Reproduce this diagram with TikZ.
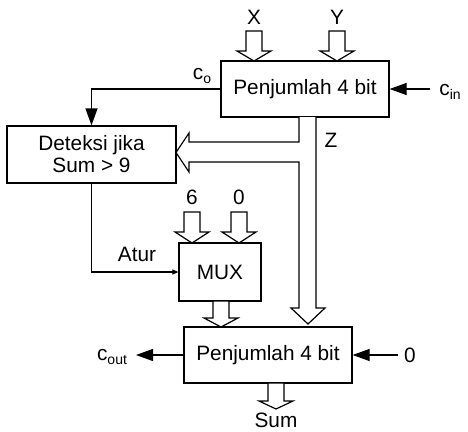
\documentclass[tikz,border=0pt]{standalone}
\usepackage{fontspec}
\setmainfont{Liberation Sans}
\usetikzlibrary{arrows.meta}
\newcommand\fatdown[4]{%
  \draw[fat] ({#1-8},#2) -- ({#1-8},#3) -- ({#1-17},#3) -- (#1,#4) -- ({#1+17},#3) -- ({#1+8},#3) -- ({#1+8},#2) -- cycle;}
\newcommand\mysub[1]{\raisebox{-0.3ex}{\fontsize{14}{16}\selectfont #1}}
\begin{document}
\begin{tikzpicture}[x=1pt,y=-1pt,line width=1.2pt,
  every node/.style={font=\fontsize{20.8}{24}\selectfont},
  blk/.style={draw,rectangle,inner sep=0pt,align=center},
  fat/.style={draw,line width=1.2pt,line join=miter,fill=white},
  lbl/.style={inner sep=0pt},
  big/.style={-{Triangle[length=17pt,width=12pt]}},
  small/.style={-{Triangle[length=6pt,width=5pt]}}]
\useasboundingbox (0,0) rectangle (468,431);
\node[blk,minimum width=168pt,minimum height=56pt] (add1) at (305,89) {Penjumlah 4 bit};
\node[blk,minimum width=169pt,minimum height=57pt] (det) at (91.5,154.5) {Deteksi jika\\[-2pt]Sum > 9};
\node[blk,minimum width=82pt,minimum height=58pt] (mux) at (220,272) {MUX};
\node[blk,minimum width=168pt,minimum height=56pt] (add2) at (268,355) {Penjumlah 4 bit};
% labels
\node[lbl] (lx) at (254,17) {X};
\node[lbl] (ly) at (337,17) {Y};
\node[lbl] (lco) at (202,76) {c\mysub{o}};
\node[lbl] (lcin) at (450,92) {c\mysub{in}};
\node[lbl] (lz) at (331,140) {Z};
\node[lbl] (l6) at (192,197) {6};
\node[lbl] (l0) at (239,197) {0};
\node[lbl] (latur) at (137,254) {Atur};
\node[lbl] (lcout) at (112,357) {c\mysub{out}};
\node[lbl] (lzero) at (410,355) {0};
\node[lbl] (lsum) at (276,420) {Sum};
\coordinate (cinS) at (430,89);
\coordinate (coutE) at (136,355);
\coordinate (zeroS) at (398,355);
% fat arrows
\fatdown{254}{31}{51}{61}
\fatdown{337}{31}{51}{61}
\fatdown{192}{212}{232}{243}
\fatdown{239}{212}{232}{243}
\fatdown{221}{301}{318}{327}
\fatdown{276}{383}{401}{409}
% Z bus
\draw[fat] (299,117) -- (299,142) -- (189,142) -- (189,133) -- (176,152.5) -- (189,172) -- (189,162)
  -- (299,162) -- (299,308) -- (291,308) -- (308,324) -- (325,308) -- (316,308) -- (316,117);
% connectors
\draw[big] (add1.west) -| (det.north);
\draw[big] (cinS) -- (add1.east);
\draw[small] (det.south) |- (mux.west);
\draw[big] (add2.west) -- (coutE);
\draw[big] (zeroS) -- (add2.east);
\end{tikzpicture}
\end{document}
